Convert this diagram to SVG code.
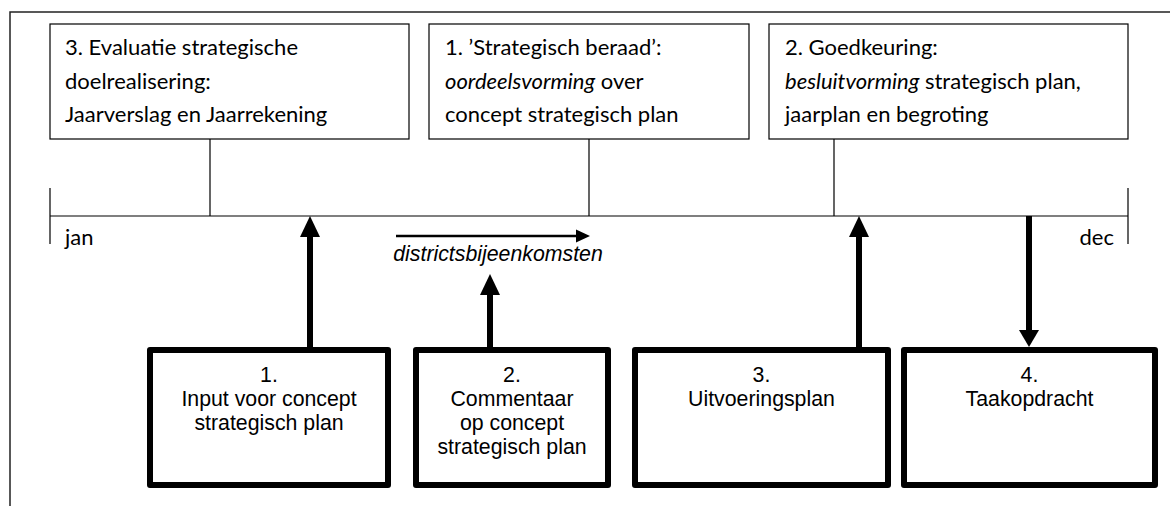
<svg xmlns="http://www.w3.org/2000/svg" width="1170" height="506" viewBox="0 0 1170 506">
  <style>
    .frame { fill: none; stroke: #222; stroke-width: 1.5; }
    .phase { fill: #fff; stroke: #000; stroke-width: 1.2; }
    .thin { stroke: #000; stroke-width: 1.2; fill: none; }
    .doc { fill: #fff; stroke: #000; stroke-width: 6; stroke-linejoin: round; }
    .shaft { stroke: #000; stroke-width: 6; fill: none; }
    .head { fill: #000; }
    .cal { font-family: Lato, "Open Sans", sans-serif; font-size: 22px; fill: #000; }
    .ari { font-family: "Liberation Sans", Arial, sans-serif; font-size: 21.3px; fill: #000; text-anchor: middle; }
    .it { font-style: italic; }
  </style>

  <!-- outer frame: top and left edges only -->
  <path class="frame" d="M10,506 V12 H1170"/>

  <!-- timeline -->
  <g id="timeline">
    <path class="thin" d="M50,216 H1128 M50,188 V244 M1128,188 V244"/>
    <text class="cal" x="65" y="245">jan</text>
    <text class="cal" x="1114" y="245" text-anchor="end">dec</text>
  </g>

  <!-- phase boxes above the timeline -->
  <g id="phase-evaluatie">
    <rect class="phase" x="50" y="24" width="359" height="115"/>
    <text class="cal" x="65" y="55">3. Evaluatie strategische</text>
    <text class="cal" x="65" y="88.5">doelrealisering:</text>
    <text class="cal" x="65" y="121.5">Jaarverslag en Jaarrekening</text>
  </g>
  <g id="phase-beraad">
    <rect class="phase" x="429" y="24" width="320" height="115"/>
    <text class="cal" x="445" y="55">1. ’Strategisch beraad’:</text>
    <text class="cal" x="445" y="88.5"><tspan class="it">oordeelsvorming</tspan> over</text>
    <text class="cal" x="445" y="121.5">concept strategisch plan</text>
  </g>
  <g id="phase-goedkeuring">
    <rect class="phase" x="769" y="24" width="359" height="115"/>
    <text class="cal" x="785" y="55">2. Goedkeuring:</text>
    <text class="cal" x="785" y="88.5"><tspan class="it">besluitvorming</tspan> strategisch plan,</text>
    <text class="cal" x="785" y="121.5">jaarplan en begroting</text>
  </g>

  <!-- district meetings marker -->
  <g id="districts">
    <line x1="396" y1="236" x2="580" y2="236" stroke="#000" stroke-width="2.5"/>
    <polygon class="head" points="590,236 576,229.5 576,242.5"/>
    <text class="ari it" x="498" y="261">districtsbijeenkomsten</text>
  </g>

  <!-- documents below the timeline -->
  <g id="doc-input">
    <rect class="doc" x="150" y="350" width="238" height="135"/>
    <text class="ari" x="269" y="382">1.</text>
    <text class="ari" x="269" y="406">Input voor concept</text>
    <text class="ari" x="269" y="430">strategisch plan</text>
  </g>
  <g id="doc-commentaar">
    <rect class="doc" x="416" y="350" width="192" height="135"/>
    <text class="ari" x="512" y="382">2.</text>
    <text class="ari" x="512" y="406">Commentaar</text>
    <text class="ari" x="512" y="430">op concept</text>
    <text class="ari" x="512" y="454">strategisch plan</text>
  </g>
  <g id="doc-uitvoering">
    <rect class="doc" x="635" y="350" width="253" height="135"/>
    <text class="ari" x="761.5" y="382">3.</text>
    <text class="ari" x="761.5" y="406">Uitvoeringsplan</text>
  </g>
  <g id="doc-taak">
    <rect class="doc" x="904" y="350" width="251" height="135"/>
    <text class="ari" x="1029.5" y="382">4.</text>
    <text class="ari" x="1029.5" y="406">Taakopdracht</text>
  </g>

  <!-- connectors -->
  <g id="connectors">
    <path class="thin" d="M210,139 V216 M589,139 V216 M834,139 V216"/>
    <path class="shaft" d="M310,347 V234 M490,347 V292 M859,347 V234 M1029,216 V331"/>
    <polygon class="head" points="310,216 300,237 320,237"/>
    <polygon class="head" points="490,274 480,295 500,295"/>
    <polygon class="head" points="859,216 849,237 869,237"/>
    <polygon class="head" points="1029,347 1019,330 1039,330"/>
  </g>
</svg>
